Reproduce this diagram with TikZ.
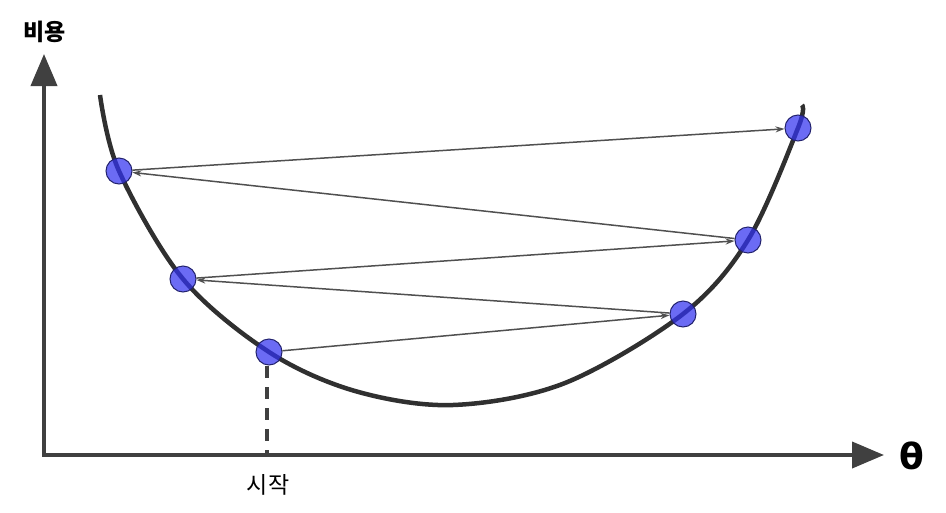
\documentclass[tikz,border=0pt]{standalone}
\usepackage{fontspec}
\newfontfamily\kr{Noto Sans CJK KR}
\newfontfamily\thetafont{DejaVu Sans}
\usetikzlibrary{arrows.meta}
\definecolor{axisc}{HTML}{404040}
\definecolor{curvec}{HTML}{303030}
\definecolor{arrc}{HTML}{505050}
\definecolor{dotfill}{RGB}{50,50,240}
\definecolor{dotline}{RGB}{35,35,110}
\tikzset{
  axis/.style={draw=axisc, line width=4pt, line join=miter,
    {Triangle[length=32pt,width=26pt]}-{Triangle[length=32pt,width=26pt]}},
  curve/.style={draw=curvec, line width=4.5pt},
  guide/.style={draw=axisc, line width=4pt, dash pattern=on 12pt off 9pt},
  ball/.style={circle, minimum size=26pt, inner sep=0pt, fill=dotfill, fill opacity=0.72, draw=dotline, draw opacity=1, line width=1pt},
  jump/.style={draw=arrc, line width=1.5pt, -{Stealth[length=9pt,width=6pt]}},
  lbl/.style={inner sep=0pt, text=black}
}
\begin{document}
\begin{tikzpicture}[x=1pt,y=-1pt]
\useasboundingbox (0,0) rectangle (946,512);
% key points
\coordinate (ytip) at (44,54);
\coordinate (orig) at (44,455);
\coordinate (xtip) at (884,455);
\coordinate (c0) at (100,95);
\coordinate (p5) at (119,171);
\coordinate (p3) at (183,279);
\coordinate (p1) at (269,352);
\coordinate (m1) at (355,391);
\coordinate (m2) at (453,405);
\coordinate (m3) at (565,383);
\coordinate (p2) at (683,314);
\coordinate (p4) at (748,240);
\coordinate (p6) at (798,128);
\coordinate (c9) at (802,105);
\coordinate (gtop) at (267,366);
\coordinate (gbot) at (267,455);
% axes
\draw[axis] (ytip) -- (orig) -- (xtip);
% curve
\draw[curve] plot[smooth, tension=0.55] coordinates {(c0) (p5) (p3) (p1) (m1) (m2) (m3) (p2) (p4) (p6) (c9)};
% guide
\draw[guide] (gtop) -- (gbot);
% balls
\node[ball] (d1) at (p1) {};
\node[ball] (d2) at (p2) {};
\node[ball] (d3) at (p3) {};
\node[ball] (d4) at (p4) {};
\node[ball] (d5) at (p5) {};
\node[ball] (d6) at (p6) {};
% jumps
\draw[jump] (d1) -- (d2);
\draw[jump] (d2) -- (d3);
\draw[jump] (d3) -- (d4);
\draw[jump] (d4) -- (d5);
\draw[jump] (d5) -- (d6);
% labels
\node[lbl] (ylab) at (45,32) {\kr\bfseries\fontsize{23}{26}\selectfont 비용};
\node[lbl] (xlab) at (912,456) {\thetafont\bfseries\fontsize{36}{40}\selectfont θ};
\node[lbl] (slab) at (268,485) {\kr\fontsize{23}{26}\selectfont 시작};
\end{tikzpicture}
\end{document}
